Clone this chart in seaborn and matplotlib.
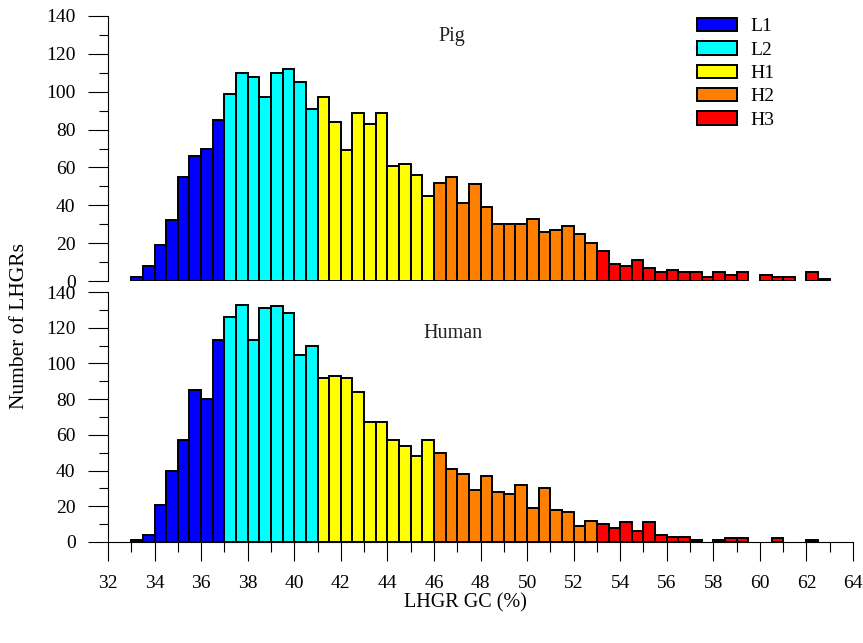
import numpy as np
import pandas as pd
import matplotlib
matplotlib.use("Agg")
import matplotlib.pyplot as plt
import seaborn as sns
from matplotlib.patches import Patch
from matplotlib.ticker import MultipleLocator

sns.set_theme(style="ticks")
plt.rcParams['font.family'] = ['Liberation Serif', 'DejaVu Serif']
plt.rcParams['text.color'] = 'black'
plt.rcParams['xtick.labelcolor'] = 'black'
plt.rcParams['ytick.labelcolor'] = 'black'

# ---- data ----
gc_bins = [33.0, 33.5, 34.0, 34.5, 35.0, 35.5, 36.0, 36.5, 37.0, 37.5,
           38.0, 38.5, 39.0, 39.5, 40.0, 40.5, 41.0, 41.5, 42.0, 42.5,
           43.0, 43.5, 44.0, 44.5, 45.0, 45.5, 46.0, 46.5, 47.0, 47.5,
           48.0, 48.5, 49.0, 49.5, 50.0, 50.5, 51.0, 51.5, 52.0, 52.5,
           53.0, 53.5, 54.0, 54.5, 55.0, 55.5, 56.0, 56.5, 57.0, 57.5,
           58.0, 58.5, 59.0, 59.5, 60.0, 60.5, 61.0, 61.5, 62.0, 62.5]

pig_counts = [2, 8, 19, 32, 55, 66, 70, 85,
              99, 110, 108, 97, 110, 112, 105, 91,
              97, 84, 69, 89, 83, 89, 61, 62, 56, 45,
              52, 55, 41, 51, 39, 30, 30, 30, 33, 26, 27, 29, 25, 20,
              16, 9, 8, 11, 7, 5, 6, 5, 5, 2, 5, 3, 5, 0, 3, 2, 2, 0, 5, 1]

human_counts = [1, 4, 21, 40, 57, 85, 80, 113,
                126, 133, 113, 131, 132, 128, 105, 110,
                92, 93, 92, 84, 67, 67, 57, 54, 48, 57,
                50, 41, 38, 29, 37, 28, 27, 32, 19, 30, 18, 17, 9, 12,
                10, 8, 11, 6, 11, 4, 3, 3, 1, 0, 1, 2, 2, 0, 0, 2, 0, 0, 1, 0]

class_names = ["L1", "L2", "H1", "H2", "H3"]
class_upper = [37, 41, 46, 53, 100]
class_colors = ["#0000FF", "#00FFFF", "#FFFF00", "#FF8000", "#FF0000"]
palette = dict(zip(class_names, class_colors))


def classify(g):
    for name, up in zip(class_names, class_upper):
        if g < up:
            return name
    return class_names[-1]


def make_df(counts):
    return pd.DataFrame({
        "gc": [g + 0.25 for g in gc_bins],
        "count": counts,
        "cls": [classify(g) for g in gc_bins],
    })


W, H = 863, 643
fig = plt.figure(figsize=(W / 100, H / 100), dpi=100)
left, right = 108, 853
ax_top = fig.add_axes([left / W, 1 - 281 / H, (right - left) / W, (281 - 16) / H])
ax_bot = fig.add_axes([left / W, 1 - 542 / H, (right - left) / W, (542 - 292) / H])

for ax, counts in [(ax_top, pig_counts), (ax_bot, human_counts)]:
    df = make_df(counts)
    sns.histplot(data=df, x="gc", weights="count", hue="cls",
                 hue_order=class_names, palette=palette,
                 binwidth=0.5, binrange=(33, 63), multiple="layer",
                 alpha=1, edgecolor="black", linewidth=1.4,
                 legend=False, ax=ax)
    for p in list(ax.patches):
        if p.get_height() == 0:
            p.remove()
    ax.set_xlim(32, 64)
    ax.set_ylim(0, 140)
    ax.set_xlabel("")
    ax.set_ylabel("")
    ax.yaxis.set_major_locator(MultipleLocator(20))
    ax.yaxis.set_minor_locator(MultipleLocator(10))
    ax.tick_params(axis="y", which="major", length=14.4, width=0.8,
                   direction="out", labelsize=14, pad=9, color="black",
                   labelcolor="black")
    ax.tick_params(axis="y", which="minor", length=6.5, width=0.8,
                   direction="out", color="black")
    for s in ["top", "right"]:
        ax.spines[s].set_visible(False)
    ax.spines["left"].set_linewidth(0.8)
    ax.spines["left"].set_color("black")
    ax.set_facecolor("none")

# top panel: no x axis
ax_top.spines["bottom"].set_visible(False)
ax_top.tick_params(axis="x", which="both", bottom=False, labelbottom=False)

# bottom panel x axis
ax_bot.spines["bottom"].set_linewidth(0.8)
ax_bot.spines["bottom"].set_color("black")
ax_bot.xaxis.set_major_locator(MultipleLocator(2))
ax_bot.xaxis.set_minor_locator(MultipleLocator(1))
ax_bot.tick_params(axis="x", which="major", length=14, width=0.8,
                   direction="out", labelsize=14, pad=10, color="black",
                   labelcolor="black")
ax_bot.tick_params(axis="x", which="minor", length=7, width=0.8,
                   direction="out", color="black")

# panel titles
fig.text(452 / W, 1 - 36 / H, "Pig", ha="center", va="center",
         fontsize=14.5, color="#222222")
fig.text(453 / W, 1 - 333 / H, "Human", ha="center", va="center",
         fontsize=14.5, color="#222222")

# axis labels
fig.text(465 / W, 1 - 603 / H, "LHGR GC (%)", ha="center", va="center",
         fontsize=14.5, color="black")
fig.text(19 / W, 1 - 326 / H, "Number of LHGRs", ha="center", va="center",
         rotation=90, fontsize=15.5, color="black")

# legend
handles = [Patch(facecolor=c, edgecolor="black", linewidth=1.4)
           for c in class_colors]
fig.legend(handles, class_names, loc="upper left",
           bbox_to_anchor=(697 / W, 1 - 18 / H), frameon=False,
           fontsize=14, handlelength=2.05, handleheight=0.68,
           handletextpad=0.7, labelspacing=0.3, borderpad=0,
           borderaxespad=0)

fig.savefig("out.png", dpi=100)
